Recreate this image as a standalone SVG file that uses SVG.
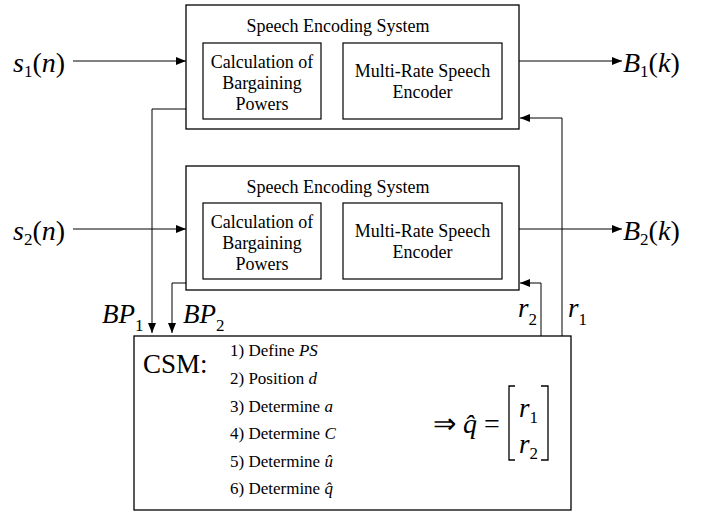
<svg xmlns="http://www.w3.org/2000/svg" width="704" height="511" viewBox="0 0 704 511">
<style>
text{font-family:'Liberation Serif','Times New Roman',Times,serif;fill:#000}
.box{fill:#fff;stroke:#000;stroke-width:1.3}
.inner{fill:none;stroke:#000;stroke-width:1.2}
.lbl{font-size:18px;text-anchor:middle}
.math{font-size:28px}
.it{font-style:italic}
.sub{font-size:17px}
.conn{fill:none;stroke:#000;stroke-width:1}
.item{font-size:17px}
</style>
<defs>
<marker id="ah" viewBox="0 0 10 8" refX="10" refY="4" markerWidth="10" markerHeight="8" markerUnits="userSpaceOnUse" orient="auto">
<path d="M0,0 L10,4 L0,8 Z" fill="#000"/>
</marker>
</defs>

<g id="ses1">
<rect class="box" x="186" y="5" width="333" height="124"/>
<text class="lbl" x="338" y="32">Speech Encoding System</text>
<g id="calc1">
<rect class="inner" x="203" y="43" width="118" height="76"/>
<text class="lbl" x="262" y="68">Calculation of</text>
<text class="lbl" x="262" y="89">Bargaining</text>
<text class="lbl" x="262" y="110">Powers</text>
</g>
<g id="enc1">
<rect class="inner" x="343" y="43" width="159" height="76"/>
<text class="lbl" x="422.5" y="77">Multi-Rate Speech</text>
<text class="lbl" x="422.5" y="98">Encoder</text>
</g>
</g>

<g id="ses2">
<rect class="box" x="186" y="166" width="333" height="124"/>
<text class="lbl" x="338" y="193">Speech Encoding System</text>
<g id="calc2">
<rect class="inner" x="203" y="203" width="118" height="76"/>
<text class="lbl" x="262" y="228">Calculation of</text>
<text class="lbl" x="262" y="249">Bargaining</text>
<text class="lbl" x="262" y="270">Powers</text>
</g>
<g id="enc2">
<rect class="inner" x="343" y="203" width="159" height="76"/>
<text class="lbl" x="422.5" y="237">Multi-Rate Speech</text>
<text class="lbl" x="422.5" y="258">Encoder</text>
</g>
</g>

<g id="csm">
<rect class="box" x="134" y="336" width="437" height="174"/>
<text x="143" y="373" font-size="27">CSM:</text>
<text class="item" x="230" y="356">1) Define <tspan class="it">PS</tspan></text>
<text class="item" x="230" y="384">2) Position <tspan class="it">d</tspan></text>
<text class="item" x="230" y="412">3) Determine <tspan class="it">a</tspan></text>
<text class="item" x="230" y="439">4) Determine <tspan class="it">C</tspan></text>
<text class="item" x="230" y="467">5) Determine <tspan class="it">û</tspan></text>
<text class="item" x="230" y="494">6) Determine <tspan class="it">q̂</tspan></text>
<text x="433" y="433" font-size="28">⇒ <tspan class="it">q̂</tspan> =</text>
<path d="M515,386 H509 V460 H515 M541,386 H548 V460 H541" fill="none" stroke="#000" stroke-width="1.3"/>
<text class="it" x="519" y="417" font-size="27">r<tspan class="sub" font-style="normal" dy="6">1</tspan></text>
<text class="it" x="519" y="453" font-size="27">r<tspan class="sub" font-style="normal" dy="6">2</tspan></text>
</g>

<g id="io-labels">
<text class="math" x="13" y="72"><tspan class="it">s</tspan><tspan class="sub" dy="5">1</tspan><tspan dy="-5">(</tspan><tspan class="it">n</tspan>)</text>
<text class="math" x="13" y="240"><tspan class="it">s</tspan><tspan class="sub" dy="5">2</tspan><tspan dy="-5">(</tspan><tspan class="it">n</tspan>)</text>
<text class="math" x="623" y="72"><tspan class="it">B</tspan><tspan class="sub" dy="5">1</tspan><tspan dy="-5">(</tspan><tspan class="it">k</tspan>)</text>
<text class="math" x="623" y="240"><tspan class="it">B</tspan><tspan class="sub" dy="5">2</tspan><tspan dy="-5">(</tspan><tspan class="it">k</tspan>)</text>
<text x="102" y="323" font-size="27"><tspan class="it">BP</tspan><tspan class="sub" dy="8">1</tspan></text>
<text x="183" y="323" font-size="27"><tspan class="it">BP</tspan><tspan class="sub" dy="8">2</tspan></text>
<text x="518" y="317" font-size="27"><tspan class="it">r</tspan><tspan class="sub" dy="8">2</tspan></text>
<text x="568" y="317" font-size="27"><tspan class="it">r</tspan><tspan class="sub" dy="8">1</tspan></text>
</g>

<g id="connectors">
<line class="conn" x1="73" y1="61" x2="186" y2="61" marker-end="url(#ah)"/>
<line class="conn" x1="73" y1="229" x2="186" y2="229" marker-end="url(#ah)"/>
<line class="conn" x1="519" y1="61" x2="622" y2="61" marker-end="url(#ah)"/>
<line class="conn" x1="519" y1="229" x2="622" y2="229" marker-end="url(#ah)"/>
<polyline class="conn" points="186,109 152,109 152,333" marker-end="url(#ah)"/>
<polyline class="conn" points="186,283 172,283 172,333" marker-end="url(#ah)"/>
<polyline class="conn" points="562,336 562,118 520,118" marker-end="url(#ah)"/>
<polyline class="conn" points="541,336 541,283 520,283" marker-end="url(#ah)"/>
</g>
</svg>
